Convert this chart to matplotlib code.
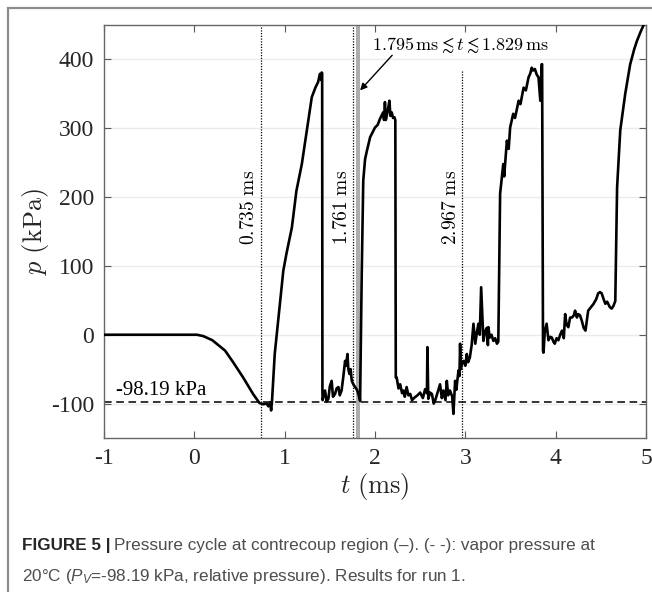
import matplotlib
matplotlib.use("Agg")
import matplotlib.pyplot as plt
from matplotlib.patches import Rectangle

# pressure trace at contrecoup region
t_ms = [-1.0, 0.03, 0.10, 0.20, 0.34, 0.43, 0.54, 0.65, 0.72, 0.76, 0.80, 0.82, 0.84, 0.85, 0.86,
        0.89, 0.95, 0.985, 1.02, 1.08, 1.13, 1.19, 1.245, 1.30, 1.34, 1.37, 1.39, 1.405, 1.41, 1.415,
        1.418, 1.42, 1.447, 1.465, 1.484, 1.50, 1.52, 1.535, 1.558, 1.575, 1.595, 1.61, 1.63, 1.65,
        1.669, 1.68, 1.695, 1.705, 1.717, 1.73, 1.743, 1.76, 1.78, 1.80, 1.816, 1.835,
        1.853, 1.87, 1.89, 1.91, 1.946, 2.0, 2.03, 2.056, 2.09, 2.10, 2.11, 2.12, 2.14, 2.16, 2.17,
        2.185, 2.2, 2.215, 2.225, 2.23, 2.24, 2.26, 2.278, 2.30, 2.315, 2.33, 2.35, 2.37, 2.39, 2.41,
        2.44, 2.47, 2.50, 2.53, 2.555, 2.575, 2.58, 2.59, 2.61, 2.63, 2.65, 2.665, 2.69, 2.72, 2.74,
        2.757, 2.78, 2.795, 2.81, 2.83, 2.855, 2.868, 2.887, 2.90, 2.924, 2.935, 2.942, 2.95, 2.96,
        2.98, 3.0, 3.016, 3.03, 3.05, 3.07, 3.09, 3.11, 3.13, 3.145, 3.16, 3.175, 3.19, 3.2, 3.22,
        3.237, 3.25, 3.255, 3.27, 3.29, 3.31, 3.33, 3.35, 3.365, 3.385, 3.42, 3.43, 3.46, 3.48, 3.496,
        3.53, 3.55, 3.59, 3.61, 3.645, 3.67, 3.70, 3.72, 3.735, 3.75, 3.77, 3.79, 3.81, 3.83, 3.845,
        3.85, 3.86, 3.865, 3.88, 3.90, 3.92, 3.94, 3.957, 3.975, 3.99, 4.01, 4.03, 4.05, 4.07, 4.09,
        4.105, 4.12, 4.14, 4.16, 4.18, 4.2, 4.215, 4.235, 4.25, 4.27, 4.29, 4.31, 4.33, 4.36, 4.39,
        4.42, 4.45, 4.47, 4.49, 4.51, 4.53, 4.55, 4.57, 4.60, 4.62, 4.64, 4.66, 4.68, 4.715, 4.77,
        4.825, 4.87, 4.90, 4.94, 4.97, 5.0]
p_kpa = [0, 0, -2, -8, -23, -40, -62, -86, -99, -101, -100, -104, -98, -110, -96,
         -28, 49, 93, 118, 156, 209, 248, 297, 345, 359, 367, 379, 370, 381, 380,
         -81, -95, -81, -97, -93, -75, -67, -90, -86, -78, -76, -88, -81, -60,
         -38, -45, -28, -50, -57, -50, -67, -72, -76, -80, -86, -96,
         88, 224, 255, 267, 287, 301, 305, 314, 323, 312, 338, 312, 325, 340, 318,
         323, 315, 316, 312, -62, -62, -78, -72, -85, -81, -90, -76, -88, -86, -95,
         -91, -88, -84, -92, -79, -85, -18, -93, -84, -86, -100, -96, -85, -72, -92,
         -81, -95, -67, -88, -81, -90, -115, -67, -80, -52, -60, -13, -50, -43,
         -38, -45, -28, -40, -33, -15, 16, -13, 5, 16, 0, 69, 20, -9, 5,
         10, -15, 11, -4, 0, -9, -5, -13, -10, 205, 248, 230, 282, 270, 301,
         321, 315, 340, 335, 359, 355, 374, 380, 388, 384, 386, 378, 374, 340, 393,
         393, -23, -26, 5, 16, -8, -3, -4, -10, -13, -5, -8, 0, 6, -5,
         30, 15, 11, 25, 25, 28, 35, 25, 30, 28, 20, 10, 6, 35, 40,
         45, 52, 60, 62, 60, 52, 45, 48, 40, 38, 42, 49, 214, 297, 350,
         393, 415, 427, 440, 449, 455]

p_vapor = -98.19
event_t = [0.735, 1.761, 2.967]
event_top = [450, 450, 385]
event_labels = ["0.735", "1.761", "2.967"]
band = [1.795, 1.829]

plt.rcParams["axes.unicode_minus"] = False
plt.rcParams["mathtext.fontset"] = "cm"
plt.rcParams["mathtext.it"] = "Liberation Sans:italic"
plt.rcParams["mathtext.rm"] = "Liberation Sans"
plt.rcParams["mathtext.bf"] = "Liberation Sans:bold"
serif = "Liberation Serif"

fig = plt.figure(figsize=(6.52, 5.92), dpi=100)
ax = fig.add_axes([104 / 652, 1 - 438 / 592, 542 / 652, 413 / 592])

ax.axvspan(band[0], band[1], color="0.68", lw=0, zorder=1)
ax.axhline(p_vapor, color="black", ls=(0, (5, 3)), lw=1.1, zorder=2)
for tt, top in zip(event_t, event_top):
    ax.plot([tt, tt], [-150, top], color="black", ls=(0, (1, 1.2)), lw=0.9, zorder=2)
ax.plot(t_ms, p_kpa, color="black", lw=1.9, zorder=3)

for tt, lab in zip(event_t, event_labels):
    ax.text(tt - 0.03, 240, r"$%s\ \mathrm{ms}$" % lab, rotation=90, ha="right", va="top",
            fontsize=14, color="black")

ax.text(-0.87, -81, "-98.19 kPa", family=serif, fontsize=15, ha="left", va="center")

ax.text(2.945, 420, r"$1.795\,\mathrm{ms} \lesssim t \lesssim 1.829\,\mathrm{ms}$",
        fontsize=13, ha="center", va="center")
ax.annotate("", xy=(1.835, 355), xytext=(2.19, 406),
            arrowprops=dict(arrowstyle="-|>", color="black", lw=1.0, mutation_scale=10,
                            shrinkA=0, shrinkB=0))

ax.set_xlim(-1, 5)
ax.set_ylim(-150, 450)
ax.set_xticks(range(-1, 6))
ax.set_yticks(range(-100, 401, 100))
ax.yaxis.grid(True, color="0.92", lw=1.0)
ax.set_axisbelow(True)
ax.tick_params(direction="in", top=True, right=True, length=5, color="0.35",
               labelsize=17, labelcolor="0.15", pad=7)
for lab in ax.get_xticklabels() + ax.get_yticklabels():
    lab.set_family(serif)
for s in ax.spines.values():
    s.set_color("0.4")
    s.set_linewidth(1.0)

ax.set_xlabel(r"$t\ (\mathrm{ms})$", fontsize=19, labelpad=2, color="0.15")
ax.set_ylabel(r"$p\ (\mathrm{kPa})$", fontsize=19, labelpad=0, color="0.15")

# outer frame of the figure panel
fig.add_artist(Rectangle((8 / 652, -0.1), 1.0, 1.1 - 8 / 592, transform=fig.transFigure,
                         fill=False, ec="0.55", lw=1.6))

# caption
cap_size = 12.3
bold = fig.text(22 / 652, 1 - 550 / 592, "FIGURE 5 |", family="Liberation Sans",
                weight="bold", fontsize=cap_size, color="0.15", va="baseline")
fig.canvas.draw()
bb = bold.get_window_extent()
fig.text(bb.x1 / 652 + 0.006, 1 - 550 / 592,
         "Pressure cycle at contrecoup region (–). (- -): vapor pressure at",
         family="Liberation Sans", fontsize=cap_size, color="0.3", va="baseline")
fig.text(22 / 652, 1 - 581 / 592,
         r"20°C ($P_V$=-98.19 kPa, relative pressure). Results for run 1.",
         family="Liberation Sans", fontsize=cap_size, color="0.3", va="baseline",
         math_fontfamily="custom")

fig.savefig("out.png", dpi=100)
